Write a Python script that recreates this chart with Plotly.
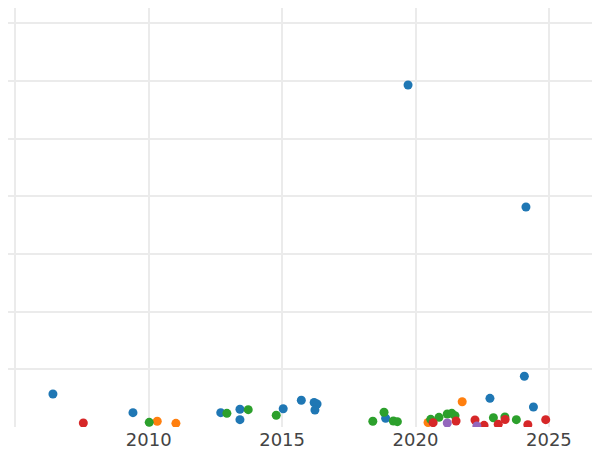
import plotly.graph_objects as go

# Data (x = year, y = value in gridline units)
blue_x = [2006.41, 2009.41, 2012.70, 2013.42, 2013.42, 2015.04, 2015.72, 2016.20, 2016.31, 2016.23,
          2018.88, 2019.72, 2022.79, 2024.14, 2024.08, 2024.42]
blue_y = [0.572, 0.248, 0.248, 0.307, 0.127, 0.317, 0.463, 0.425, 0.399, 0.295,
          0.151, 5.927, 0.497, 3.813, 0.879, 0.347]

orange_x = [2010.32, 2011.02, 2020.47, 2021.75]
orange_y = [0.099, 0.064, 0.078, 0.438]

green_x = [2010.02, 2012.93, 2013.73, 2014.78, 2018.40, 2018.82, 2019.17, 2019.32,
           2020.57, 2020.88, 2021.19, 2021.36, 2021.48, 2022.92, 2023.35, 2023.78]
green_y = [0.081, 0.237, 0.300, 0.203, 0.099, 0.255, 0.104, 0.092,
           0.133, 0.168, 0.225, 0.237, 0.196, 0.161, 0.173, 0.127]

red_x = [2007.55, 2020.66, 2021.52, 2022.23, 2022.57, 2023.10, 2023.36, 2024.21, 2024.88]
red_y = [0.069, 0.075, 0.104, 0.121, 0.029, 0.047, 0.130, 0.040, 0.127]

purple_x = [2021.19, 2022.30]
purple_y = [0.069, 0.017]

series = [
    ("Series A", blue_x, blue_y, "#1f77b4"),
    ("Series B", orange_x, orange_y, "#ff7f0e"),
    ("Series C", green_x, green_y, "#2ca02c"),
    ("Series D", red_x, red_y, "#d62728"),
    ("Series E", purple_x, purple_y, "#9467bd"),
]

fig = go.Figure()
for name, xs, ys, col in series:
    fig.add_trace(go.Scatter(x=xs, y=ys, mode="markers", name=name,
                             marker=dict(color=col, size=9, line=dict(width=0))))

fig.update_layout(
    width=592, height=442,
    margin=dict(l=0, r=0, t=0, b=23),
    paper_bgcolor="white", plot_bgcolor="white",
    showlegend=False,
    font=dict(family="DejaVu Sans", size=18, color="#444444"),
    xaxis=dict(range=[2004.726, 2026.915], tickvals=[2005, 2010, 2015, 2020, 2025],
               ticktext=["", "2010", "2015", "2020", "2025"],
               showgrid=True, gridcolor="#ebebeb", gridwidth=1.5,
               zeroline=False, showline=False, ticks=""),
    yaxis=dict(range=[0, 7.262], dtick=1, showgrid=True, gridcolor="#ebebeb", gridwidth=1.5,
               zeroline=False, showline=False, showticklabels=False, ticks=""),
)

fig.write_html("out.html")
